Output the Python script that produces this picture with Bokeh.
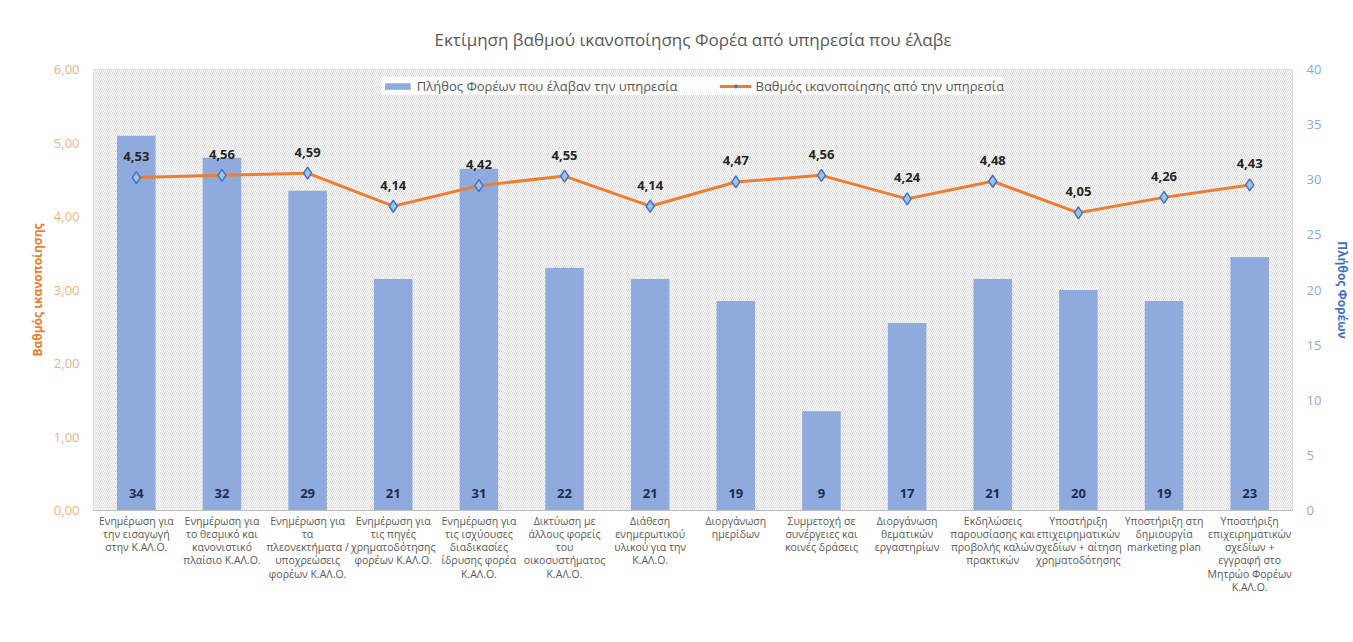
from bokeh.plotting import figure
from bokeh.models import (Range1d, LinearAxis, FixedTicker, BoxAnnotation, Legend,
                          LegendItem, FactorRange, ColumnDataSource)
from bokeh.embed import file_html
from bokeh.resources import INLINE
from bokeh.core.properties import value

categories = [
    "Ενημέρωση για\nτην εισαγωγή\nστην Κ.ΑΛ.Ο.",
    "Ενημέρωση για\nτο θεσμικό και\nκανονιστικό\nπλαίσιο Κ.ΑΛ.Ο.",
    "Ενημέρωση για\nτα\nπλεονεκτήματα /\nυποχρεώσεις\nφορέων Κ.ΑΛ.Ο.",
    "Ενημέρωση για\nτις πηγές\nχρηματοδότησης\nφορέων Κ.ΑΛ.Ο.",
    "Ενημέρωση για\nτις ισχύουσες\nδιαδικασίες\nίδρυσης φορέα\nΚ.ΑΛ.Ο.",
    "Δικτύωση με\nάλλους φορείς\nτου\nοικοσυστήματος\nΚ.ΑΛ.Ο.",
    "Διάθεση\nενημερωτικού\nυλικού για την\nΚ.ΑΛ.Ο.",
    "Διοργάνωση\nημερίδων",
    "Συμμετοχή σε\nσυνέργειες και\nκοινές δράσεις",
    "Διοργάνωση\nθεματικών\nεργαστηρίων",
    "Εκδηλώσεις\nπαρουσίασης και\nπροβολής καλών\nπρακτικών",
    "Υποστήριξη\nεπιχειρηματικών\nσχεδίων + αίτηση\nχρηματοδότησης",
    "Υποστήριξη στη\nδημιουργία\nmarketing plan",
    "Υποστήριξη\nεπιχειρηματικών\nσχεδίων +\nεγγραφή στο\nΜητρώο Φορέων\nΚ.ΑΛ.Ο.",
]
counts = [34, 32, 29, 21, 31, 22, 21, 19, 9, 17, 21, 20, 19, 23]
scores = [4.53, 4.56, 4.59, 4.14, 4.42, 4.55, 4.14, 4.47, 4.56, 4.24, 4.48, 4.05, 4.26, 4.43]
left_ticks = [0, 1, 2, 3, 4, 5, 6]
left_tick_labels = ["0,00", "1,00", "2,00", "3,00", "4,00", "5,00", "6,00"]
right_ticks = [0, 5, 10, 15, 20, 25, 30, 35, 40]

title_text = "Εκτίμηση βαθμού ικανοποίησης Φορέα από υπηρεσία που έλαβε"
left_title = "Βαθμός ικανοποίησης"
right_title = "Πλήθος Φορέων"
bar_series = "Πλήθος Φορέων που έλαβαν την υπηρεσία"
line_series = "Βαθμός ικανοποίησης από την υπηρεσία"

FONT = "Open Sans"
BAR_C = "#8FAADC"
LINE_C = "#ED7D31"

src = ColumnDataSource(dict(
    cat=categories, cnt=counts, score=scores,
    cnt_lbl=[str(c) for c in counts],
    score_lbl=[f"{s:.2f}".replace(".", ",") for s in scores],
))

p = figure(frame_width=1199, frame_height=441, x_range=FactorRange(*categories),
           y_range=Range1d(left_ticks[0], left_ticks[-1]),
           output_backend="svg", toolbar_location=None,
           min_border_left=93, min_border_right=61, min_border_top=69, min_border_bottom=132)
p.extra_y_ranges = {"cnt": Range1d(right_ticks[0], right_ticks[-1])}

p.title.text = title_text
p.title.align = "center"
p.title.text_font = FONT
p.title.text_font_size = "17px"
p.title.text_font_style = "normal"
p.title.text_color = "#595959"
p.title.standoff = 38

p.outline_line_color = "#d9d9d9"
p.background_fill_color = "white"
p.border_fill_color = "white"

# hatched plot background
p.add_layout(BoxAnnotation(fill_color="white", fill_alpha=1.0, hatch_pattern="\\",
                           hatch_color="#c8c8c8", hatch_scale=4, hatch_weight=0.7,
                           line_color=None, level="underlay"))

# grids
p.ygrid.ticker = FixedTicker(ticks=left_ticks)
p.ygrid.grid_line_color = "#d4d4d4"
p.xgrid.ticker = FixedTicker(ticks=list(range(len(categories) + 1)))
p.xgrid.grid_line_color = "#d4d4d4"

# left axis
la = p.yaxis[0]
la.ticker = FixedTicker(ticks=left_ticks)
la.major_label_overrides = {t: l for t, l in zip(left_ticks, left_tick_labels)}
la.axis_label = left_title
la.axis_label_text_font = FONT
la.axis_label_text_font_size = "12px"
la.axis_label_text_font_style = "bold"
la.axis_label_text_color = LINE_C
la.axis_label_standoff = 5
la.major_label_text_font = FONT
la.major_label_text_font_size = "13px"
la.major_label_text_color = "#F4B183"
la.major_label_standoff = 14
la.major_tick_out = 0
la.major_tick_in = 0
la.axis_line_color = None
la.major_tick_line_color = None
la.minor_tick_line_color = None

# right axis
ra = LinearAxis(y_range_name="cnt", ticker=FixedTicker(ticks=right_ticks))
ra.axis_label = right_title
ra.axis_label_text_font = FONT
ra.axis_label_text_font_size = "12px"
ra.axis_label_text_font_style = "bold"
ra.axis_label_text_color = "#4472C4"
ra.axis_label_standoff = 10
ra.major_label_text_font = FONT
ra.major_label_text_font_size = "13px"
ra.major_label_text_color = "#8EA9DB"
ra.major_label_standoff = 14
ra.major_tick_out = 0
ra.major_tick_in = 0
ra.axis_line_color = None
ra.major_tick_line_color = None
ra.minor_tick_line_color = None
p.add_layout(ra, "right")

# bottom axis
xa = p.xaxis[0]
xa.major_label_text_font = FONT
xa.major_label_text_font_size = "10.5px"
xa.major_label_text_color = "#595959"
xa.major_label_text_line_height = 0.95
xa.axis_line_color = "#bfbfbf"
xa.major_tick_line_color = None
xa.minor_tick_line_color = None
xa.major_tick_out = 0
xa.major_tick_in = 0
xa.major_label_standoff = 3

bars = p.vbar(x="cat", top="cnt", width=0.45, y_range_name="cnt", source=src,
              fill_color=BAR_C, line_color=None)
p.text(x="cat", y=0, text="cnt_lbl", y_range_name="cnt", source=src, y_offset=-17,
       text_align="center", text_baseline="middle", text_font=value(FONT),
       text_font_size="13px", text_font_style="bold", text_color="#1F2D50")

line = p.line(x="cat", y="score", source=src, line_color=LINE_C, line_width=3)
pts = p.scatter(x="cat", y="score", source=src, marker="diamond", size=12,
                fill_color="#9DC3E6", line_color="#4472C4", line_width=1.5)
p.text(x="cat", y="score", text="score_lbl", source=src, y_offset=-21,
       text_align="center", text_baseline="middle", text_font=value(FONT),
       text_font_size="13px", text_font_style="bold", text_color="#262626")

legend = Legend(items=[LegendItem(label=bar_series, renderers=[bars]),
                       LegendItem(label=line_series, renderers=[line, pts])],
                orientation="horizontal", location="top_center",
                border_line_color=None, background_fill_color="white",
                background_fill_alpha=0.85,
                label_text_font=FONT, label_text_font_size="13px",
                label_text_color="#595959", padding=3, margin=8, spacing=42,
                glyph_width=32, glyph_height=8, label_standoff=4,
                label_height=16)
p.add_layout(legend, "center")

open("out.html", "w").write(file_html(p, INLINE))
